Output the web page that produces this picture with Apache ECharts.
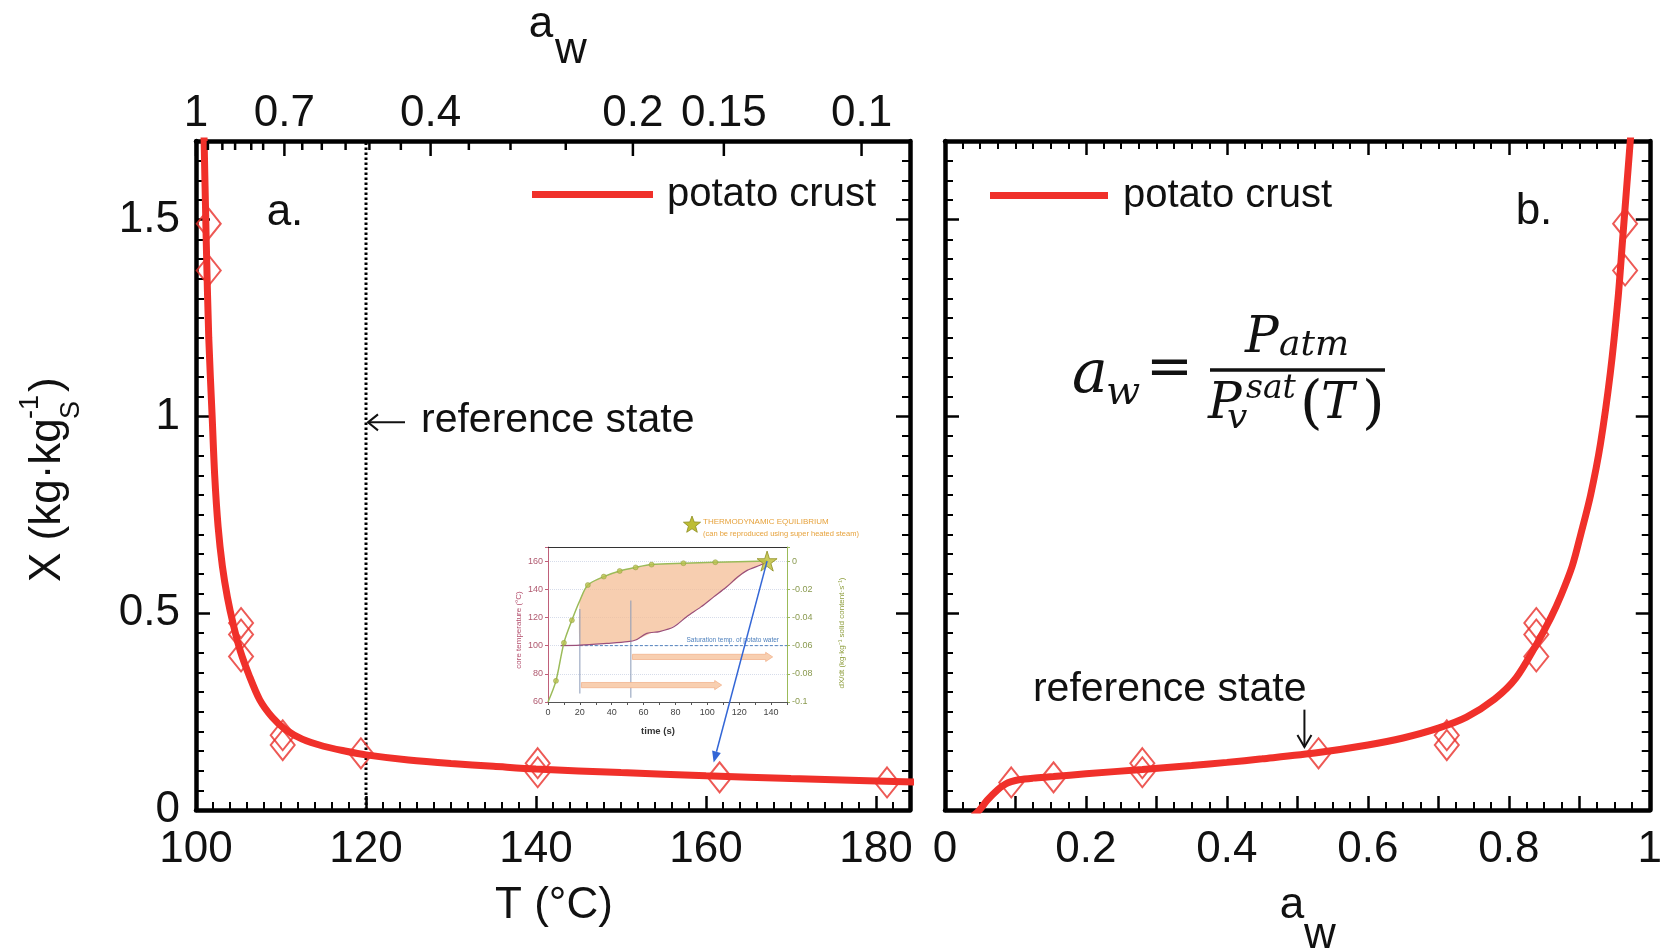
<!DOCTYPE html>
<html>
<head>
<meta charset="utf-8">
<script src="https://cdn.jsdelivr.net/npm/echarts@6/dist/echarts.min.js"></script>
<style>
  html, body { margin: 0; padding: 0; background: #ffffff; }
  #c { width: 1665px; height: 948px; }
</style>
</head>
<body>
<div id="c"></div>
<script>
// ---------------- data ----------------
// sorption samples: temperature (°C), water activity, moisture content X (kg/kg dry solid)
const sampleT  = [101.5, 101.5, 105.3, 105.3, 105.3, 110.2, 110.2, 119.4, 140.2, 140.2, 161.6, 181.3];
const sampleAw = [0.965, 0.965, 0.839, 0.839, 0.839, 0.712, 0.712, 0.530, 0.280, 0.280, 0.154, 0.094];
const sampleX  = [1.490, 1.371, 0.475, 0.446, 0.390, 0.190, 0.165, 0.144, 0.119, 0.096, 0.083, 0.070];

// fitted isotherm, X versus T (panel a)
const fitT  = [100.9, 101.2, 101.5, 101.9, 102.2, 102.6, 103.1, 103.7, 104.4, 105.2, 106.2, 107.5, 109.0, 110.5, 112.5, 115.0, 117.5, 120.0, 125.0, 130.0, 135.0, 140.0, 150.0, 160.0, 170.0, 180.0, 185.0];
const fitXT = [1.760, 1.450, 1.200, 1.000, 0.850, 0.720, 0.620, 0.540, 0.470, 0.405, 0.345, 0.280, 0.235, 0.205, 0.180, 0.162, 0.150, 0.140, 0.127, 0.118, 0.111, 0.104, 0.095, 0.087, 0.080, 0.074, 0.071];

// fitted isotherm, X versus a_w (panel b)
const fitAw  = [0.040, 0.049, 0.060, 0.075, 0.086, 0.094, 0.105, 0.125, 0.154, 0.200, 0.280, 0.350, 0.400, 0.450, 0.530, 0.600, 0.650, 0.700, 0.740, 0.780, 0.810, 0.839, 0.860, 0.874, 0.890, 0.902, 0.916, 0.930, 0.944, 0.955, 0.9615, 0.968, 0.975];
const fitXAw = [-0.015, 0.000, 0.025, 0.052, 0.066, 0.072, 0.077, 0.081, 0.085, 0.092, 0.103, 0.113, 0.121, 0.130, 0.146, 0.165, 0.183, 0.208, 0.236, 0.282, 0.335, 0.420, 0.490, 0.545, 0.620, 0.700, 0.800, 0.930, 1.110, 1.300, 1.450, 1.600, 1.760];

// secondary a_w scale on top of panel a: tick temperatures and their labels
const awTickT      = [100, 101.4, 103.1, 104.6, 106.5, 107.9, 110.4, 112.5, 114.8, 117.6, 120.4, 124.1, 127.6, 132.1, 137.0, 143.5, 151.4, 162.1, 178.3];
const awTickLabels = ['1', '', '', '', '', '', '0.7', '', '', '', '', '', '0.4', '', '', '', '0.2', '0.15', '0.1'];

// reference state
const refT = 120;
const refLabelX = 0.985;
const refAw = 0.51;
const refArrowX = [0.255, 0.16];

// inset: drying kinetics (time in s)
const coreTime = [8, 20, 37, 50, 55, 62, 70, 79, 87, 96, 104, 112, 119, 125, 133, 137.5];
const coreTemp = [100, 100.3, 101.6, 102.8, 104, 108.7, 110, 113.4, 120.5, 127.5, 134.6, 141.6, 148.7, 153.4, 157, 159.3];
const rateTime = [0, 5, 10, 15, 20, 25, 35, 45, 55, 65, 85, 105, 137.5];
const rateVal  = [-0.1, -0.085, -0.058, -0.042, -0.028, -0.017, -0.011, -0.007, -0.0045, -0.0025, -0.0015, -0.0008, 0];
const rateMarkTime = [5, 10, 15, 25, 35, 45, 55, 65, 85, 105];
const rateMarkVal  = [-0.085, -0.058, -0.042, -0.017, -0.011, -0.007, -0.0045, -0.0025, -0.0015, -0.0008];
const bandTime  = [20, 25, 35, 45, 55, 65, 75, 85, 95, 105, 115, 125, 133, 137.5];
const bandUpper = [132, 143, 149, 153, 155.5, 157.5, 158.2, 158.5, 159, 159.2, 159.5, 159.7, 159.9, 160];
const bandLower = [100.3, 100.8, 101.6, 102.5, 104, 109, 111.5, 118.5, 126.5, 135, 144, 153.4, 157, 159.3];
const saturationTemp = 100;
const saturationSpan = [20, 150];
const phaseMarks = [[20, 66, 126], [52, 63, 132]];          // time, from °C, to °C
const phaseArrows = [[53, 141, 92], [21, 109, 72]];        // start time, end time, °C
const equilibrium = [137.5, 160];
const equilibriumTarget = [160.9, 0.121];

// ---------------- chart ----------------
const chart = echarts.init(document.getElementById('c'), null, { renderer: 'canvas', width: 1665, height: 948 });
const FONT = '"Liberation Sans", Arial, Helvetica, sans-serif';
const MATH = '"DejaVu Serif", "Liberation Serif", serif';
const RED = '#f0302a';
const INK = '#111111';
const Y_MAX = 1.7;
const STAR = 'path://M50,2 L61.8,38.2 L99.9,38.2 L69.1,60.6 L80.9,96.8 L50,74.4 L19.1,96.8 L30.9,60.6 L0.1,38.2 L38.2,38.2 Z';

const zip = (a, b) => a.map((v, i) => [v, b[i]]);

const frameLine = { show: true, onZero: false, lineStyle: { color: '#000', width: 4.5 } };
const majorTick = { show: true, inside: true, length: 14, lineStyle: { color: '#000', width: 2.5 } };
const noSplit = { show: false };

function minor(n) {
  return { show: true, splitNumber: n, length: 8, lineStyle: { color: '#000', width: 2 } };
}
function bigLabel(fmt, margin) {
  return { show: true, fontSize: 44, color: INK, fontFamily: FONT, margin: margin, formatter: fmt };
}
const fmtT = v => (Math.abs(v % 20) < 1e-9 ? String(v) : '');
const fmtX = v => (Math.abs(v * 2 - Math.round(v * 2)) < 1e-9 ? String(+v.toFixed(1)) : '');
const fmtAw = v => (Math.round(v * 10) % 2 === 0 ? String(+v.toFixed(1)) : '');

const insetText = { fontSize: 9, fontFamily: FONT };

const option = {
  animation: false,
  backgroundColor: '#ffffff',
  grid: [
    { left: 196, top: 141, width: 714, height: 669 },
    { left: 945, top: 141, width: 715, height: 669 },
    { left: 548, top: 547, width: 239, height: 155 }
  ],
  xAxis: [
    { gridIndex: 0, type: 'value', position: 'bottom', min: 100, max: 184, interval: 20,
      axisLine: frameLine, axisTick: majorTick, minorTick: minor(10),
      axisLabel: bigLabel(fmtT, 18), splitLine: noSplit },
    { gridIndex: 0, type: 'value', position: 'top', min: 100, max: 184,
      axisLine: frameLine, axisTick: { show: false }, axisLabel: { show: false }, splitLine: noSplit },
    { gridIndex: 1, type: 'value', position: 'bottom', min: 0, max: 1, interval: 0.1,
      axisLine: frameLine, axisTick: majorTick, minorTick: minor(4),
      axisLabel: bigLabel(fmtAw, 18), splitLine: noSplit },
    { gridIndex: 1, type: 'value', position: 'top', min: 0, max: 1, interval: 0.2,
      axisLine: frameLine, axisTick: majorTick, minorTick: minor(8),
      axisLabel: { show: false }, splitLine: noSplit },
    { gridIndex: 2, type: 'value', position: 'bottom', min: 0, max: 150, interval: 20,
      axisLine: { show: true, onZero: false, lineStyle: { color: '#555', width: 1 } },
      axisTick: { show: true, length: 3, lineStyle: { color: '#555' } },
      minorTick: { show: true, splitNumber: 2, length: 3, lineStyle: { color: '#555' } },
      axisLabel: Object.assign({ color: '#444', margin: 6, formatter: fmtT }, insetText), splitLine: noSplit },
    { gridIndex: 2, type: 'value', position: 'top', min: 0, max: 150,
      axisLine: { show: true, onZero: false, lineStyle: { color: '#333', width: 1.2 } },
      axisTick: { show: false }, axisLabel: { show: false }, splitLine: noSplit }
  ],
  yAxis: [
    { gridIndex: 0, type: 'value', position: 'left', min: 0, max: Y_MAX, interval: 0.5,
      axisLine: frameLine, axisTick: majorTick, minorTick: minor(10),
      axisLabel: bigLabel(fmtX, 16), splitLine: noSplit },
    { gridIndex: 0, type: 'value', position: 'right', min: 0, max: Y_MAX, interval: 0.5,
      axisLine: frameLine, axisTick: majorTick, minorTick: minor(10),
      axisLabel: { show: false }, splitLine: noSplit },
    { gridIndex: 1, type: 'value', position: 'left', min: 0, max: Y_MAX, interval: 0.5,
      axisLine: frameLine, axisTick: majorTick, minorTick: minor(10),
      axisLabel: { show: false }, splitLine: noSplit },
    { gridIndex: 1, type: 'value', position: 'right', min: 0, max: Y_MAX, interval: 0.5,
      axisLine: frameLine, axisTick: majorTick, minorTick: minor(10),
      axisLabel: { show: false }, splitLine: noSplit },
    { gridIndex: 2, type: 'value', position: 'left', min: 60, max: 170, interval: 20,
      axisLine: { show: true, onZero: false, lineStyle: { color: '#c0607a', width: 1 } },
      axisTick: { show: true, length: 3, lineStyle: { color: '#c0607a' } },
      axisLabel: Object.assign({ color: '#b05a70', margin: 5, formatter: v => (v % 20 === 0 ? String(v) : '') }, insetText),
      splitLine: { show: true, lineStyle: { color: '#d6dcea', type: 'dotted', width: 1 } } },
    { gridIndex: 2, type: 'value', position: 'right', min: -0.1, max: 0.01, interval: 0.02,
      axisLine: { show: true, onZero: false, lineStyle: { color: '#9bbb59', width: 1 } },
      axisTick: { show: true, length: 3, lineStyle: { color: '#9bbb59' } },
      axisLabel: Object.assign({ color: '#8a9a50', margin: 5,
        formatter: v => (v > 0.001 ? '' : (Math.abs(v) < 1e-9 ? '0' : String(+v.toFixed(2)))) }, insetText),
      splitLine: noSplit }
  ],
  series: [
    // ---- panel a ----
    { name: 'samples T', type: 'scatter', xAxisIndex: 0, yAxisIndex: 0, z: 2,
      data: zip(sampleT, sampleX), symbol: 'diamond', symbolSize: [24, 30],
      itemStyle: { color: 'rgba(0,0,0,0)', borderColor: '#e8302a', borderWidth: 2 } },
    { name: 'potato crust', type: 'line', xAxisIndex: 0, yAxisIndex: 0, z: 3,
      data: zip(fitT, fitXT), showSymbol: false, symbol: 'none', smooth: 0.3,
      lineStyle: { color: RED, width: 7 } },
    { name: 'reference line', type: 'line', xAxisIndex: 0, yAxisIndex: 0, z: 1,
      data: [[refT, 0], [refT, Y_MAX]], symbol: 'none',
      lineStyle: { color: '#000', width: 3, type: [2.5, 2.5] } },
    { name: 'aw ticks', type: 'custom', xAxisIndex: 0, yAxisIndex: 0, clip: false, z: 5,
      data: awTickT.map(t => [t]),
      renderItem: (params, api) => {
        const p = api.coord([api.value(0), Y_MAX]);
        const len = awTickLabels[params.dataIndex] ? 15 : 9;
        return { type: 'line', shape: { x1: p[0], y1: p[1], x2: p[0], y2: p[1] + len },
                 style: { stroke: '#000', lineWidth: 2.5 } };
      } },
    { name: 'aw labels', type: 'custom', xAxisIndex: 0, yAxisIndex: 0, clip: false, z: 5,
      data: awTickT.map(t => [t]),
      renderItem: (params, api) => {
        const txt = awTickLabels[params.dataIndex];
        if (!txt) return null;
        const p = api.coord([api.value(0), Y_MAX]);
        return { type: 'text', x: p[0], y: p[1] - 27,
                 style: { text: txt, fontSize: 44, fontFamily: FONT, fill: INK, align: 'center', verticalAlign: 'middle' } };
      } },
    // ---- panel b ----
    { name: 'samples aw', type: 'scatter', xAxisIndex: 2, yAxisIndex: 2, z: 2,
      data: zip(sampleAw, sampleX), symbol: 'diamond', symbolSize: [24, 30],
      itemStyle: { color: 'rgba(0,0,0,0)', borderColor: '#e8302a', borderWidth: 2 } },
    { name: 'potato crust', type: 'line', xAxisIndex: 2, yAxisIndex: 2, z: 3,
      data: zip(fitAw, fitXAw), showSymbol: false, symbol: 'none', smooth: 0.3,
      lineStyle: { color: RED, width: 7 } },
    // ---- inset ----
    { name: 'heating band', type: 'custom', xAxisIndex: 4, yAxisIndex: 4, z: 1,
      data: bandTime.map((t, i) => [t, bandUpper[i], bandLower[i]]),
      encode: { x: 0, y: [1, 2] },
      renderItem: (params, api) => {
        if (params.dataIndex !== 0) return null;
        const up = bandTime.map((t, i) => api.coord([t, bandUpper[i]]));
        const lo = bandTime.map((t, i) => api.coord([t, bandLower[i]])).reverse();
        return { type: 'polygon', shape: { points: up.concat(lo), smooth: 0.2 },
                 style: { fill: 'rgba(244,190,150,0.75)' } };
      } },
    { name: 'phase marks', type: 'custom', xAxisIndex: 4, yAxisIndex: 4, z: 2,
      data: phaseMarks,
      renderItem: (params, api) => {
        const a = api.coord([api.value(0), api.value(1)]);
        const b = api.coord([api.value(0), api.value(2)]);
        return { type: 'line', shape: { x1: a[0], y1: a[1], x2: b[0], y2: b[1] },
                 style: { stroke: '#8a9ab8', lineWidth: 1 } };
      } },
    { name: 'phase arrows', type: 'custom', xAxisIndex: 4, yAxisIndex: 4, z: 2,
      data: phaseArrows,
      renderItem: (params, api) => {
        const a = api.coord([api.value(0), api.value(2)]);
        const b = api.coord([api.value(1), api.value(2)]);
        const h = 2.6, hh = 4.6, hl = 7;
        const pts = [[a[0], a[1] - h], [b[0] - hl, b[1] - h], [b[0] - hl, b[1] - hh], [b[0], b[1]],
                     [b[0] - hl, b[1] + hh], [b[0] - hl, b[1] + h], [a[0], a[1] + h]];
        return { type: 'polygon', shape: { points: pts },
                 style: { fill: '#f8cfb0', stroke: '#f2b48e', lineWidth: 0.8 } };
      } },
    { name: 'saturation', type: 'line', xAxisIndex: 4, yAxisIndex: 4, z: 2,
      data: saturationSpan.map(t => [t, saturationTemp]), symbol: 'none',
      lineStyle: { color: '#4f81bd', width: 1, type: [3, 2] } },
    { name: 'core temperature', type: 'line', xAxisIndex: 4, yAxisIndex: 4, z: 3,
      data: zip(coreTime, coreTemp), symbol: 'none', smooth: 0.3,
      lineStyle: { color: '#9a4f7a', width: 1.2 } },
    { name: 'drying rate', type: 'line', xAxisIndex: 4, yAxisIndex: 5, z: 3,
      data: zip(rateTime, rateVal), symbol: 'none', smooth: 0.3,
      lineStyle: { color: '#9bbb59', width: 1.5 } },
    { name: 'drying rate points', type: 'scatter', xAxisIndex: 4, yAxisIndex: 5, z: 4,
      data: zip(rateMarkTime, rateMarkVal), symbol: 'circle', symbolSize: 5,
      itemStyle: { color: '#b8c24e', borderColor: '#8e9a3a', borderWidth: 0.6 } },
    { name: 'equilibrium', type: 'scatter', xAxisIndex: 4, yAxisIndex: 4, z: 6,
      data: [equilibrium], symbol: STAR, symbolSize: 20,
      itemStyle: { color: '#bdbd35', borderColor: '#8d8d1e', borderWidth: 1 } }
  ]
};
chart.setOption(option);

// ---------------- annotations ----------------
const pxA = v => chart.convertToPixel({ xAxisIndex: 0, yAxisIndex: 0 }, v);
const pxB = v => chart.convertToPixel({ xAxisIndex: 2, yAxisIndex: 2 }, v);
const pxI = v => chart.convertToPixel({ xAxisIndex: 4, yAxisIndex: 4 }, v);

function txt(x, y, text, size, extra) {
  return { type: 'text', x: x, y: y, z: 20, style: Object.assign({
    text: text, fontSize: size, fontFamily: FONT, fill: INK, align: 'center', verticalAlign: 'middle' }, extra || {}) };
}
function mathTxt(x, y, text, size, italic) {
  return { type: 'text', x: x, y: y, z: 20, style: {
    text: text, fontSize: size, fontFamily: MATH, fontStyle: italic ? 'italic' : 'normal',
    fill: INK, align: 'left', verticalAlign: 'middle' } };
}
function starPoints(cx, cy, R) {
  const pts = [];
  for (let i = 0; i < 10; i++) {
    const r = i % 2 === 0 ? R : R * 0.42;
    const a = -Math.PI / 2 + i * Math.PI / 5;
    pts.push([cx + r * Math.cos(a), cy + r * Math.sin(a)]);
  }
  return pts;
}

const g = [];
// axis titles
g.push(txt(541, 25, 'a', 44));
g.push(txt(571, 51, 'w', 44));
g.push(txt(554, 906, 'T (°C)', 44));
g.push(txt(1292, 906, 'a', 44));
g.push(txt(1320, 936, 'w', 44));

// y title, laid out along the rotated baseline: X (kg·kg_S^-1)
function localTxt(x, y, text, size) {
  return { type: 'text', x: x, y: y, style: {
    text: text, fontSize: size, fontFamily: FONT, fill: INK, align: 'left', verticalAlign: 'middle' } };
}
g.push({ type: 'group', x: 48, y: 478, rotation: Math.PI / 2, z: 20, children: [
  localTxt(-104, 0, 'X (kg·kg', 44),
  localTxt(59, 24, 'S', 27),
  localTxt(59, -17, '-1', 27),
  localTxt(86, 0, ')', 44)
] });

// panel tags
g.push(txt(285, 213, 'a.', 44));
g.push(txt(1534, 212, 'b.', 44));
// legends
g.push({ type: 'rect', z: 20, shape: { x: 532, y: 191, width: 121, height: 7 }, style: { fill: RED } });
g.push(txt(667, 195, 'potato crust', 40, { align: 'left' }));
g.push({ type: 'rect', z: 20, shape: { x: 990, y: 192, width: 118, height: 7 }, style: { fill: RED } });
g.push(txt(1123, 196, 'potato crust', 40, { align: 'left' }));

// reference state, panel a
const ra = pxA([refT, refLabelX]);
g.push({ type: 'line', z: 20, shape: { x1: ra[0] + 39, y1: ra[1], x2: ra[0] + 2, y2: ra[1] }, style: { stroke: INK, lineWidth: 2 } });
g.push({ type: 'polyline', z: 20, shape: { points: [[ra[0] + 12, ra[1] - 8], [ra[0] + 2, ra[1]], [ra[0] + 12, ra[1] + 8]] },
         style: { stroke: INK, lineWidth: 2, fill: null } });
g.push(txt(ra[0] + 55, ra[1] - 2, 'reference state', 41, { align: 'left' }));

// reference state, panel b
const rb0 = pxB([refAw, refArrowX[0]]);
const rb1 = pxB([refAw, refArrowX[1]]);
g.push({ type: 'line', z: 20, shape: { x1: rb0[0], y1: rb0[1], x2: rb1[0], y2: rb1[1] }, style: { stroke: INK, lineWidth: 2 } });
g.push({ type: 'polyline', z: 20, shape: { points: [[rb1[0] - 7, rb1[1] - 12], [rb1[0], rb1[1]], [rb1[0] + 7, rb1[1] - 12]] },
         style: { stroke: INK, lineWidth: 2, fill: null } });
g.push(txt(rb0[0] + 2, rb0[1] - 20, 'reference state', 41, { align: 'right' }));

// formula a_w = P_atm / P_v^sat(T)
g.push(mathTxt(1072, 376, 'a', 60, true));
g.push(mathTxt(1106, 394, 'w', 40, true));
g.push(mathTxt(1146, 370, '=', 56, false));
g.push({ type: 'line', z: 20, shape: { x1: 1210, y1: 370, x2: 1385, y2: 370 }, style: { stroke: INK, lineWidth: 3.5 } });
g.push(mathTxt(1245, 339, 'P', 50, true));
g.push(mathTxt(1279, 346, 'atm', 36, true));
g.push(mathTxt(1208, 405, 'P', 50, true));
g.push(mathTxt(1227, 419, 'v', 36, true));
g.push(mathTxt(1246, 389, 'sat', 33, true));
g.push(mathTxt(1300, 407, '(', 58, false));
g.push(mathTxt(1321, 405, 'T', 50, true));
g.push(mathTxt(1362, 407, ')', 58, false));

// inset decorations
g.push({ type: 'polygon', z: 20, shape: { points: starPoints(692, 525, 9) },
         style: { fill: '#bdbd35', stroke: '#8d8d1e', lineWidth: 0.8 } });
g.push(txt(703, 522, 'THERMODYNAMIC EQUILIBRIUM', 8, { align: 'left', fill: '#e6a23c' }));
g.push(txt(703, 534, '(can be reproduced using super heated steam)', 7.5, { align: 'left', fill: '#e6a23c' }));
const sat = pxI([145, saturationTemp]);
g.push(txt(sat[0], sat[1] - 5, 'Saturation temp. of potato water', 6.5, { align: 'right', fill: '#4f81bd' }));
g.push(txt(658, 731, 'time (s)', 9.5, { fontWeight: 'bold', fill: '#333' }));
g.push({ type: 'text', x: 519, y: 630, rotation: Math.PI / 2, z: 20, style: {
  text: 'core temperature (°C)', fontSize: 8, fontFamily: FONT, fill: '#b4506e', align: 'center', verticalAlign: 'middle' } });
g.push({ type: 'text', x: 842, y: 633, rotation: Math.PI / 2, z: 20, style: {
  text: 'dX/dt (kg·kg⁻¹ solid content·s⁻¹)', fontSize: 8, fontFamily: FONT, fill: '#8f9f3f', align: 'center', verticalAlign: 'middle' } });

// arrow from the equilibrium star to the matching sample in panel a
const s0 = pxI(equilibrium);
const s1 = pxA(equilibriumTarget);
const ang = Math.atan2(s1[1] - s0[1], s1[0] - s0[0]);
const hl = 11, hw = 4.5;
const bx = s1[0] - hl * Math.cos(ang), by = s1[1] - hl * Math.sin(ang);
g.push({ type: 'line', z: 21, shape: { x1: s0[0], y1: s0[1], x2: bx, y2: by }, style: { stroke: '#3366d6', lineWidth: 1.5 } });
g.push({ type: 'polygon', z: 21, shape: { points: [
  [s1[0], s1[1]],
  [bx + hw * Math.sin(ang), by - hw * Math.cos(ang)],
  [bx - hw * Math.sin(ang), by + hw * Math.cos(ang)]] }, style: { fill: '#3366d6' } });

chart.setOption({ graphic: g });
</script>
</body>
</html>
